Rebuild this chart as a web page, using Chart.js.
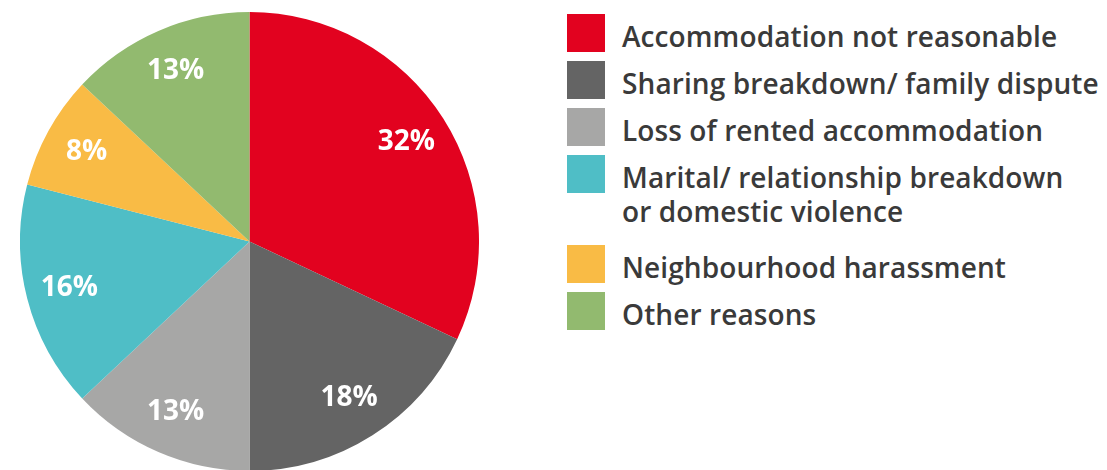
<!DOCTYPE html>
<html>
<head>
<meta charset="utf-8">
<script src="https://cdn.jsdelivr.net/npm/chart.js@4/dist/chart.umd.min.js"></script>
<style>
  html, body { margin: 0; padding: 0; background: #fff; overflow: hidden; }
  body { width: 1107px; height: 470px; position: relative; font-family: 'Open Sans', sans-serif; }
  #pieBox { position: absolute; left: 20px; top: 12px; width: 459px; height: 459px; }
  #legend { position: absolute; left: 567px; top: 0; }
  .item { position: absolute; left: 0; display: flex; align-items: flex-start; white-space: nowrap; }
  .swatch { width: 38px; height: 38px; flex: none; }
  .label { margin-left: 17px; font-size: 28px; font-weight: 600; color: #3a3a3a; line-height: 34px; padding-top: 5px; letter-spacing: 0.1px; }
</style>
</head>
<body>
<div id="pieBox"><canvas id="pie" width="459" height="459"></canvas></div>
<div id="legend"></div>
<script>
// --- Data ----------------------------------------------------
const categories = [
  'Accommodation not reasonable',
  'Sharing breakdown/ family dispute',
  'Loss of rented accommodation',
  'Marital/ relationship breakdown\nor domestic violence',
  'Neighbourhood harassment',
  'Other reasons'
];
const shares = [32, 18, 13, 16, 8, 13];
const colors = ['#e2021f', '#646464', '#a7a7a6', '#4fbec6', '#f9bb45', '#92ba6f'];
const legendTops = [14, 61, 108, 155, 245, 292];

// --- HTML legend -----------------------------------------------
const legend = document.getElementById('legend');
categories.forEach((cat, i) => {
  const row = document.createElement('div');
  row.className = 'item';
  row.style.top = legendTops[i] + 'px';
  row.innerHTML = `<div class="swatch" style="background:${colors[i]}"></div>
    <div class="label">${cat.replace('\n', '<br>')}</div>`;
  legend.appendChild(row);
});

// --- Percent labels inside the slices --------------------------
const sliceLabels = {
  id: 'sliceLabels',
  afterDatasetsDraw(chart) {
    const ctx = chart.ctx;
    const meta = chart.getDatasetMeta(0);
    ctx.save();
    ctx.fillStyle = '#ffffff';
    ctx.font = "bold 28px 'Open Sans', sans-serif";
    ctx.textAlign = 'center';
    ctx.textBaseline = 'middle';
    meta.data.forEach((arc, i) => {
      const p = arc.getProps(['x', 'y', 'startAngle', 'endAngle', 'outerRadius'], true);
      const mid = (p.startAngle + p.endAngle) / 2;
      const r = p.outerRadius * 0.81;
      ctx.fillText(shares[i] + '%', p.x + Math.cos(mid) * r, p.y + Math.sin(mid) * r);
    });
    ctx.restore();
  }
};

new Chart(document.getElementById('pie'), {
  type: 'pie',
  data: {
    labels: categories,
    datasets: [{
      data: shares,
      backgroundColor: colors,
      borderWidth: 0
    }]
  },
  options: {
    responsive: false,
    animation: false,
    layout: { padding: 0 },
    plugins: {
      legend: { display: false },
      tooltip: { enabled: false }
    }
  },
  plugins: [sliceLabels]
});
</script>
</body>
</html>
